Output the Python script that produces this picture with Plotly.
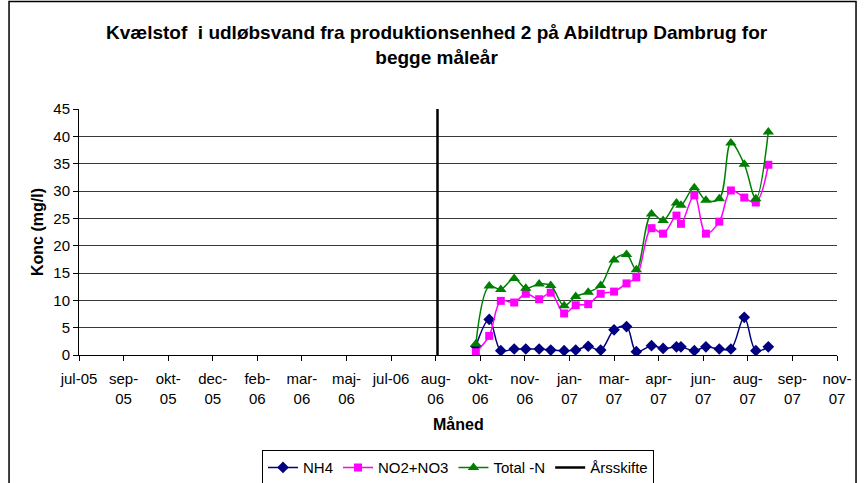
import pandas as pd
import plotly.graph_objects as go

# --- data -------------------------------------------------------------
dates = [
    "2006-10-06", "2006-10-21", "2006-11-03", "2006-11-18", "2006-12-01",
    "2006-12-16", "2006-12-29", "2007-01-13", "2007-01-26", "2007-02-09",
    "2007-02-23", "2007-03-10", "2007-03-24", "2007-04-04", "2007-04-21",
    "2007-05-04", "2007-05-19", "2007-05-24", "2007-06-08", "2007-06-21",
    "2007-07-06", "2007-07-19", "2007-08-03", "2007-08-16", "2007-08-30",
]
nh4 = [1.6, 6.5, 0.8, 1.1, 1.1, 1.1, 0.9, 0.8, 0.9, 1.6, 0.9, 4.6, 5.2,
       0.6, 1.7, 1.2, 1.5, 1.5, 0.8, 1.5, 1.1, 1.1, 6.9, 0.8, 1.5]
no2_no3 = [0.5, 3.5, 9.9, 9.6, 11.2, 10.2, 11.4, 7.6, 9.1, 9.3, 11.2, 11.6,
           13.1, 14.2, 23.2, 22.2, 25.5, 24.0, 29.2, 22.2, 24.4, 30.1, 28.8,
           27.9, 34.8]
total_n = [2.0, 12.6, 12.0, 14.0, 12.2, 13.0, 12.7, 9.0, 10.7, 11.5, 12.7,
           17.4, 18.4, 15.6, 25.8, 24.6, 27.8, 27.4, 30.6, 28.3, 28.6, 38.8,
           34.9, 28.6, 40.8]
aarsskifte_x = ["2006-08-24", "2006-08-24"]
aarsskifte_y = [0, 45]

axis_start = "2005-07-18"
tick_step_days = 50
tick_labels = ["jul-05", "sep-<br>05", "okt-<br>05", "dec-<br>05", "feb-<br>06",
               "mar-<br>06", "maj-<br>06", "jul-06", "aug-<br>06", "okt-<br>06",
               "nov-<br>06", "jan-<br>07", "mar-<br>07", "apr-<br>07", "jun-<br>07",
               "aug-<br>07", "sep-<br>07", "nov-<br>07"]
y_ticks = [0, 5, 10, 15, 20, 25, 30, 35, 40, 45]

tick_dates = pd.date_range(axis_start, periods=len(tick_labels),
                           freq=f"{tick_step_days}D")

FONT = "Liberation Sans, Arial, sans-serif"

fig = go.Figure()
fig.add_trace(go.Scatter(
    x=dates, y=nh4, name="NH4", mode="lines+markers",
    line=dict(color="#000080", width=1.5, shape="spline", smoothing=1),
    marker=dict(symbol="diamond", size=9, color="#000080"),
))
fig.add_trace(go.Scatter(
    x=dates, y=no2_no3, name="NO2+NO3", mode="lines+markers",
    line=dict(color="#FF00FF", width=1.5, shape="spline", smoothing=1),
    marker=dict(symbol="square", size=8, color="#FF00FF"),
))
fig.add_trace(go.Scatter(
    x=dates, y=total_n, name="Total -N", mode="lines+markers",
    line=dict(color="#008000", width=1.5, shape="spline", smoothing=1),
    marker=dict(symbol="triangle-up", size=10, color="#008000"),
))
fig.add_trace(go.Scatter(
    x=aarsskifte_x, y=aarsskifte_y, name="Årsskifte", mode="lines",
    line=dict(color="black", width=2.5),
))

fig.update_layout(
    width=866, height=483,
    margin=dict(l=79, r=29, t=109, b=128, autoexpand=False),
    paper_bgcolor="white", plot_bgcolor="white",
    font=dict(family=FONT, size=15, color="black"),
    xaxis=dict(
        type="date",
        range=[tick_dates[0], tick_dates[-1]],
        tickvals=tick_dates, ticktext=tick_labels,
        ticks="outside", ticklen=5, tickcolor="black",
        ticklabelstandoff=5,
        showline=True, linecolor="black", linewidth=1,
        showgrid=False, zeroline=False,
        tickfont=dict(size=15), tickangle=0,
    ),
    yaxis=dict(
        range=[0, 45], tickvals=y_ticks,
        ticks="outside", ticklen=5, tickcolor="black",
        showline=True, linecolor="black", linewidth=1,
        showgrid=True, gridcolor="#3a3a3a", gridwidth=1,
        zeroline=False, tickfont=dict(size=15),
    ),
    legend=dict(
        orientation="h", x=0.5, xanchor="center",
        y=0.068, yref="container", yanchor="top",
        bordercolor="black", borderwidth=1, font=dict(size=15),
        itemwidth=30, tracegroupgap=0,
    ),
    showlegend=True,
    annotations=[
        dict(text="<b>Kvælstof  i udløbsvand fra produktionsenhed 2 på Abildtrup Dambrug for<br>begge måleår</b>",
             x=0.4723, y=1.262, xref="paper", yref="paper",
             xanchor="center", yanchor="middle", showarrow=False,
             font=dict(size=19)),
        dict(text="<b>Konc (mg/l)</b>", textangle=-90, x=-0.0554, y=0.50,
             xref="paper", yref="paper", xanchor="center", yanchor="middle",
             showarrow=False, font=dict(size=16)),
        dict(text="<b>Måned</b>", x=0.5, y=-0.2825, xref="paper", yref="paper",
             xanchor="center", yanchor="middle",
             showarrow=False, font=dict(size=16)),
    ],
    shapes=[
        dict(type="rect", xref="paper", yref="paper",
             x0=-0.0923, x1=1.0251, y0=-0.7, y1=1.437,
             line=dict(color="black", width=1.5), fillcolor="rgba(0,0,0,0)",
             layer="below"),
    ],
)

fig.write_html(
    "out.html",
    config={"displayModeBar": False},
    post_script="document.body.style.margin='0';document.body.style.overflow='hidden';",
)
